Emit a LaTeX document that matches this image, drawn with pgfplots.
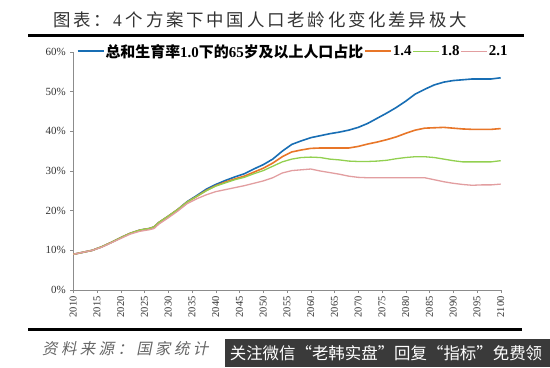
\documentclass[border=0pt]{standalone}
\usepackage{fontspec}
\usepackage{pgfplots}
\pgfplotsset{compat=1.18}
\setmainfont{Liberation Serif}
\newfontfamily\cjk{Noto Sans CJK SC}
\newfontfamily\cjktitle[LetterSpace=16]{Noto Sans CJK SC}
\newfontfamily\cjkit[FakeSlant=0.2,LetterSpace=22]{Noto Sans CJK SC}
\definecolor{cblue}{RGB}{24,110,180}
\definecolor{corange}{RGB}{232,118,40}
\definecolor{cgreen}{RGB}{146,208,80}
\definecolor{cpink}{RGB}{226,158,160}
\definecolor{boxgray}{RGB}{58,58,58}

\pgfplotstableread{
year v
2010 9.0
2012 9.5
2014 10.0
2016 10.9
2018 12.0
2020 13.2
2022 14.3
2024 15.1
2026 15.5
2027 15.9
2028 17.0
2030 18.6
2032 20.3
2034 22.3
2036 23.8
2038 25.4
2040 26.6
2042 27.6
2044 28.5
2046 29.3
2048 30.5
2050 31.6
2052 33.0
2054 35.0
2056 36.7
2058 37.6
2060 38.4
2062 38.9
2064 39.4
2066 39.8
2068 40.3
2070 41.0
2072 42.0
2074 43.3
2076 44.6
2078 46.0
2080 47.6
2082 49.4
2084 50.6
2086 51.7
2088 52.4
2090 52.8
2092 53.0
2094 53.2
2096 53.2
2098 53.2
2100 53.5
}\blue

\pgfplotstableread{
year v
2010 9.0
2012 9.5
2014 10.0
2016 10.9
2018 12.0
2020 13.2
2022 14.3
2024 15.1
2026 15.5
2027 15.9
2028 17.0
2030 18.6
2032 20.3
2034 22.2
2036 23.6
2038 25.1
2040 26.3
2042 27.2
2044 28.0
2046 28.7
2048 29.7
2050 30.7
2052 32.0
2054 33.6
2056 34.8
2058 35.3
2060 35.7
2062 35.8
2064 35.8
2066 35.8
2068 35.8
2070 36.2
2072 36.8
2074 37.3
2076 37.9
2078 38.6
2080 39.5
2082 40.3
2084 40.8
2086 40.9
2088 41.0
2090 40.8
2092 40.6
2094 40.5
2096 40.5
2098 40.5
2100 40.7
}\orange

\pgfplotstableread{
year v
2010 9.0
2012 9.5
2014 10.0
2016 10.9
2018 12.0
2020 13.2
2022 14.3
2024 15.1
2026 15.5
2027 15.9
2028 17.0
2030 18.6
2032 20.3
2034 22.2
2036 23.6
2038 25.0
2040 26.2
2042 27.0
2044 27.8
2046 28.4
2048 29.3
2050 30.1
2052 31.2
2054 32.3
2056 33.0
2058 33.4
2060 33.5
2062 33.4
2064 33.0
2066 32.8
2068 32.5
2070 32.4
2072 32.4
2074 32.5
2076 32.7
2078 33.1
2080 33.4
2082 33.6
2084 33.6
2086 33.4
2088 33.0
2090 32.6
2092 32.3
2094 32.3
2096 32.3
2098 32.3
2100 32.6
}\green

\pgfplotstableread{
year v
2010 9.0
2012 9.5
2014 10.0
2016 10.8
2018 11.9
2020 13.0
2022 14.1
2024 14.8
2026 15.2
2027 15.5
2028 16.6
2030 18.2
2032 19.9
2034 21.8
2036 23.0
2038 24.0
2040 24.8
2042 25.3
2044 25.8
2046 26.3
2048 26.9
2050 27.5
2052 28.3
2054 29.5
2056 30.1
2058 30.3
2060 30.5
2062 30.0
2064 29.6
2066 29.2
2068 28.7
2070 28.4
2072 28.3
2074 28.3
2076 28.3
2078 28.3
2080 28.3
2082 28.3
2084 28.3
2086 27.8
2088 27.3
2090 26.9
2092 26.6
2094 26.4
2096 26.5
2098 26.5
2100 26.7
}\pink

\begin{document}
\begin{tikzpicture}[x=1bp,y=1bp]
\useasboundingbox (0,0) rectangle (550,367);
\fill[white] (0,0) rectangle (550,367);
% title
\node[anchor=center, inner sep=0pt, text=black!80] at (260,347)
  {\fontsize{17.5}{17.5}\selectfont\cjktitle 图表：\hspace{2bp}{\rmfamily 4}\hspace{4bp}个方案下中国人口老龄化变化差异极大};
\fill[black] (28,330.5) rectangle (524,333.5);

\begin{axis}[
  at={(73.3bp,77bp)}, anchor=south west,
  scale only axis, width=427.4bp, height=238bp,
  xmin=2010, xmax=2100, ymin=0, ymax=60,
  axis x line=bottom, axis y line=left,
  axis line style={-, draw=black!45},
  tick style={draw=black!45, thin},
  tick align=outside, major tick length=3bp,
  xtick={2010,2015,...,2100},
  ytick={0,10,...,60},
  /pgf/number format/1000 sep={},
  /pgf/number format/assume math mode=true,
  yticklabel={\pgfmathprintnumber{\tick}\%},
  yticklabel style={font=\fontsize{11}{11}\selectfont, text=black!80, xshift=-1bp},
  xticklabel style={rotate=90, anchor=east, font=\fontsize{10.5}{10.5}\selectfont, text=black!80},
  clip=false,
  legend columns=-1,
  legend style={at={(0.008,1.003)}, anchor=west, draw=none, fill=none,
     inner sep=0pt, font=\fontsize{15}{15}\selectfont\bfseries,
     nodes={inner sep=1bp},
     /tikz/every even column/.append style={column sep=0bp}},
  legend image code/.code={\draw[#1] (0bp,0bp) -- (26bp,0bp);},
]
\addplot[cblue, line width=1.6bp] table[x=year,y=v] {\blue};
\addplot[corange, line width=1.6bp] table[x=year,y=v] {\orange};
\addplot[cgreen, line width=1.3bp] table[x=year,y=v] {\green};
\addplot[cpink, line width=1.3bp] table[x=year,y=v] {\pink};
\legend{{\cjk 总和生育率}1.0{\cjk 下的}65{\cjk 岁及以上人口占比},1.4,1.8,2.1}
\end{axis}

\fill[black] (28,36.5) rectangle (522,39.5);
\node[anchor=west, inner sep=0pt, text=black!60] at (42,18)
  {\fontsize{15.5}{15.5}\selectfont\cjkit 资料来源：国家统计};
\fill[boxgray] (225,0) rectangle (550,28);
\node[anchor=center, inner sep=0pt, text=white] at (386,14)
  {\fontsize{16.5}{16.5}\selectfont\cjk 关注微信“老韩实盘”回复“指标”免费领};
\end{tikzpicture}
\end{document}
